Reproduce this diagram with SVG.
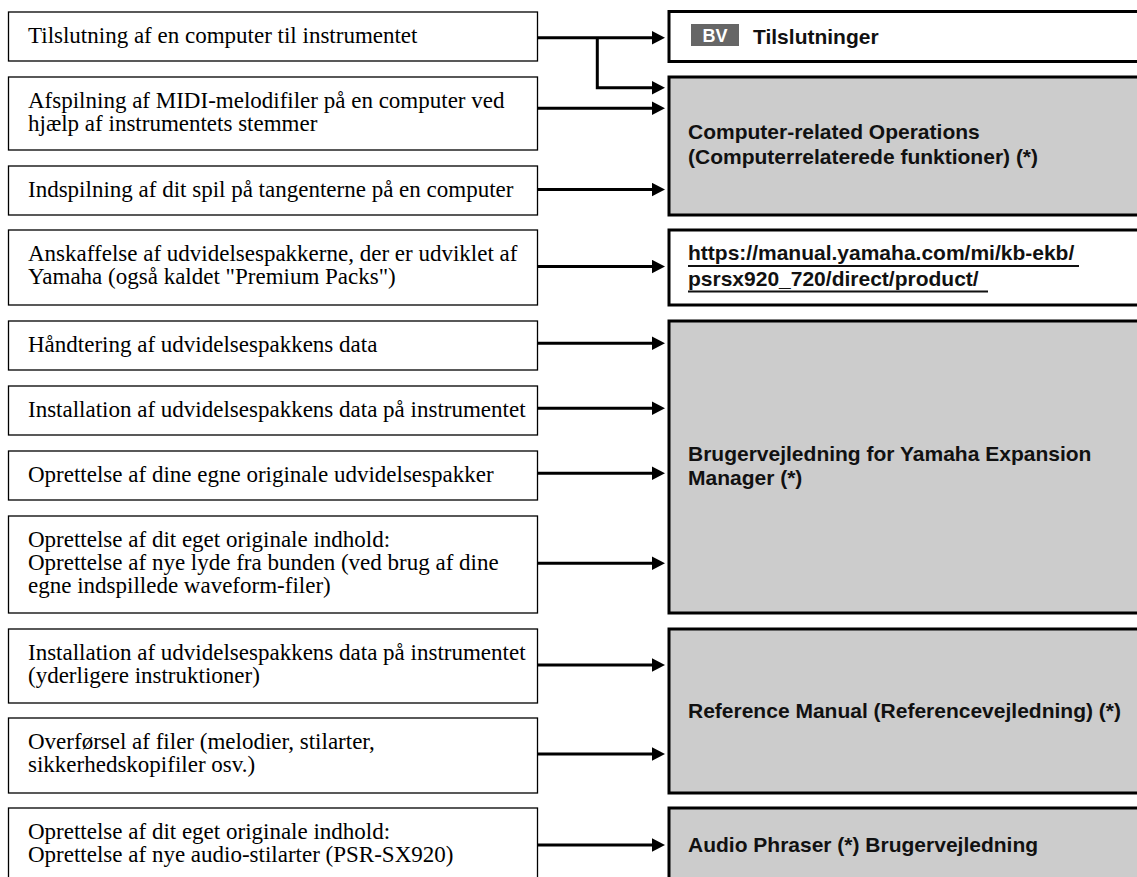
<svg xmlns="http://www.w3.org/2000/svg" width="1137" height="877" viewBox="0 0 1137 877">
<style>
.lb{fill:#fff;stroke:#000;stroke-width:1.3}
.rw{fill:#fff;stroke:#000;stroke-width:3}
.rg{fill:#ccc;stroke:#000;stroke-width:3}
.lt{font-family:"Liberation Serif","Times New Roman",serif;font-size:23px;fill:#000}
.rt{font-family:"Liberation Sans",Arial,Helvetica,sans-serif;font-weight:bold;font-size:21px;fill:#111}
.cn{fill:none;stroke:#000;stroke-width:3;marker-end:url(#ah)}
.ul{stroke:#111;stroke-width:2}
</style>
<defs>
<marker id="ah" markerUnits="userSpaceOnUse" markerWidth="14" markerHeight="14" refX="3" refY="7" orient="auto"><path d="M0,0.3 L13,7 L0,13.7 z" fill="#000"/></marker>
</defs>
<rect width="1137" height="877" fill="#fff"/>

<g id="task-connect-computer"><rect class="lb" x="8.5" y="12" width="529" height="49"/><text class="lt" x="28" y="43">Tilslutning af en computer til instrumentet</text></g>
<g id="task-midi-playback"><rect class="lb" x="8.5" y="77" width="529" height="73"/><text class="lt" x="28" y="108">Afspilning af MIDI-melodifiler på en computer ved</text><text class="lt" x="28" y="131">hjælp af instrumentets stemmer</text></g>
<g id="task-recording"><rect class="lb" x="8.5" y="166" width="529" height="49"/><text class="lt" x="28" y="197">Indspilning af dit spil på tangenterne på en computer</text></g>
<g id="task-premium-packs"><rect class="lb" x="8.5" y="230" width="529" height="75"/><text class="lt" x="28" y="261">Anskaffelse af udvidelsespakkerne, der er udviklet af</text><text class="lt" x="28" y="284">Yamaha (også kaldet "Premium Packs")</text></g>
<g id="task-manage-pack"><rect class="lb" x="8.5" y="321" width="529" height="49"/><text class="lt" x="28" y="352">Håndtering af udvidelsespakkens data</text></g>
<g id="task-install-pack"><rect class="lb" x="8.5" y="386" width="529" height="49"/><text class="lt" x="28" y="417">Installation af udvidelsespakkens data på instrumentet</text></g>
<g id="task-create-pack"><rect class="lb" x="8.5" y="451" width="529" height="49"/><text class="lt" x="28" y="482">Oprettelse af dine egne originale udvidelsespakker</text></g>
<g id="task-create-sounds"><rect class="lb" x="8.5" y="516" width="529" height="97"/><text class="lt" x="28" y="547">Oprettelse af dit eget originale indhold:</text><text class="lt" x="28" y="570">Oprettelse af nye lyde fra bunden (ved brug af dine</text><text class="lt" x="28" y="593">egne indspillede waveform-filer)</text></g>
<g id="task-install-extra"><rect class="lb" x="8.5" y="629" width="529" height="74"/><text class="lt" x="28" y="660">Installation af udvidelsespakkens data på instrumentet</text><text class="lt" x="28" y="683">(yderligere instruktioner)</text></g>
<g id="task-transfer"><rect class="lb" x="8.5" y="718" width="529" height="75"/><text class="lt" x="28" y="749">Overførsel af filer (melodier, stilarter,</text><text class="lt" x="28" y="772">sikkerhedskopifiler osv.)</text></g>
<g id="task-audio-styles"><rect class="lb" x="8.5" y="808" width="529" height="80"/><text class="lt" x="28" y="839">Oprettelse af dit eget originale indhold:</text><text class="lt" x="28" y="862">Oprettelse af nye audio-stilarter (PSR-SX920)</text></g>

<g id="doc-tilslutninger"><rect class="rw" x="669" y="11.5" width="500" height="50"/><rect x="691" y="24" width="48" height="22" fill="#666"/><text x="715" y="42" text-anchor="middle" font-family="Liberation Sans,Arial,sans-serif" font-weight="bold" font-size="18" fill="#fff">BV</text><text class="rt" x="753" y="43.5">Tilslutninger</text></g>
<g id="doc-computer-ops"><rect class="rg" x="669" y="77" width="500" height="138"/><text class="rt" x="688" y="138.5">Computer-related Operations</text><text class="rt" x="688" y="163.5">(Computerrelaterede funktioner) (*)</text></g>
<g id="doc-url"><rect class="rw" x="669" y="230" width="500" height="75"/><text class="rt" x="688" y="260">https://manual.yamaha.com/mi/kb-ekb/</text><text class="rt" x="688" y="285.5">psrsx920_720/direct/product/ </text><line class="ul" x1="688" y1="266" x2="1079" y2="266"/><line class="ul" x1="688" y1="291.5" x2="988" y2="291.5"/></g>
<g id="doc-expansion-manager"><rect class="rg" x="669" y="321" width="500" height="292"/><text class="rt" x="688" y="461">Brugervejledning for Yamaha Expansion</text><text class="rt" x="688" y="485">Manager (*)</text></g>
<g id="doc-reference-manual"><rect class="rg" x="669" y="629" width="500" height="164"/><text class="rt" x="688" y="718">Reference Manual (Referencevejledning) (*)</text></g>
<g id="doc-audio-phraser"><rect class="rg" x="669" y="808" width="500" height="90"/><text class="rt" x="688" y="852">Audio Phraser (*) Brugervejledning</text></g>

<g id="connectors">
<path class="cn" d="M537.5,37.7 H655"/>
<path class="cn" d="M597.3,37.7 V87.7 H655"/>
<path class="cn" d="M537.5,108.3 H655"/>
<path class="cn" d="M537.5,189.5 H655"/>
<path class="cn" d="M537.5,266.5 H655"/>
<path class="cn" d="M537.5,343.3 H655"/>
<path class="cn" d="M537.5,408.3 H655"/>
<path class="cn" d="M537.5,473.3 H655"/>
<path class="cn" d="M537.5,563.3 H655"/>
<path class="cn" d="M537.5,665 H655"/>
<path class="cn" d="M537.5,754 H655"/>
<path class="cn" d="M537.5,845 H655"/>
</g>
</svg>
